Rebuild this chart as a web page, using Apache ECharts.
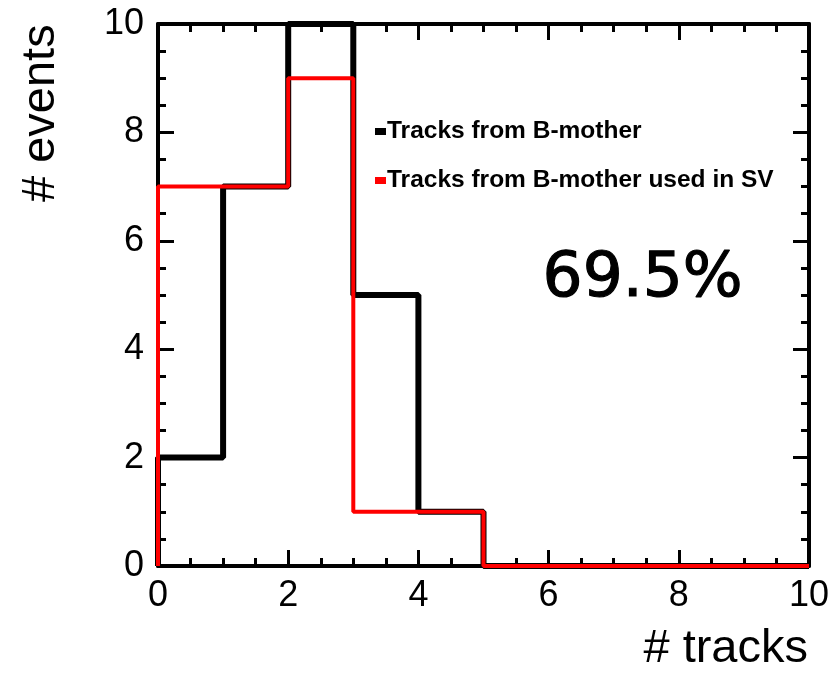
<!DOCTYPE html>
<html><head><meta charset="utf-8">
<script src="https://cdn.jsdelivr.net/npm/echarts@6/dist/echarts.min.js"></script>
<style>html,body{margin:0;padding:0;background:#fff}#c{width:837px;height:674px}</style>
</head><body><div id="c"></div>
<script>
const binEdges = [0, 1, 2, 3, 4, 5, 6, 7, 8, 9, 10];
const allTracks = [2, 7, 10, 5, 1, 0, 0, 0, 0, 0];
const usedInSV = [7, 7, 9, 1, 1, 0, 0, 0, 0, 0];
const seriesNames = ['Tracks from B-mother', 'Tracks from B-mother used in SV'];
const xTicks = [0, 2, 4, 6, 8, 10];
const yTicks = [0, 2, 4, 6, 8, 10];
const efficiencyLabel = '69.5%';

function stepPoints(vals) {
  const pts = [[binEdges[0], 0]];
  vals.forEach((v, i) => { pts.push([binEdges[i], v]); pts.push([binEdges[i + 1], v]); });
  pts.push([binEdges[binEdges.length - 1], 0]);
  return pts;
}

const axisCommon = {
  type: 'value', min: 0, max: 10, interval: 2,
  axisLine: { show: true, onZero: false, lineStyle: { color: '#000', width: 4 } },
  axisTick: { show: true, inside: true, length: 16, lineStyle: { color: '#000', width: 3 } },
  minorTick: { show: true, splitNumber: 4, length: 8, lineStyle: { color: '#000', width: 3 } },
  splitLine: { show: false }
};
const labelStyle = { fontFamily: 'Liberation Sans, Arial', fontSize: 36, color: '#000' };

const chart = echarts.init(document.getElementById('c'), null, { renderer: 'canvas' });
chart.setOption({
  animation: false,
  backgroundColor: '#fff',
  grid: { left: 158, top: 24, right: 28, bottom: 108, containLabel: false },
  xAxis: [
    Object.assign({}, axisCommon, { position: 'bottom', axisLabel: Object.assign({ margin: 12, formatter: v => xTicks.includes(v) ? String(v) : '' }, labelStyle) }),
    Object.assign({}, axisCommon, { position: 'top', axisLabel: { show: false } })
  ],
  yAxis: [
    Object.assign({}, axisCommon, { position: 'left', axisLabel: Object.assign({ margin: 14, formatter: v => yTicks.includes(v) ? String(v) : '' }, labelStyle) }),
    Object.assign({}, axisCommon, { position: 'right', axisLabel: { show: false } })
  ],
  legend: {
    orient: 'vertical', left: 370, top: 114, itemGap: 24,
    itemWidth: 11, itemHeight: 7, icon: 'rect',
    textStyle: { fontFamily: 'Liberation Sans, Arial', fontWeight: 'bold', fontSize: 24.5, color: '#000', padding: [0, 0, 0, -4] },
    data: [
      { name: seriesNames[0], itemStyle: { color: '#000' } },
      { name: seriesNames[1], itemStyle: { color: '#ff0000' } }
    ]
  },
  graphic: [
    { type: 'text', right: 29, top: 626, style: { text: '# tracks', fontFamily: 'Liberation Sans, Arial', fontSize: 47, fill: '#000' } },
    { type: 'text', x: 65, y: 202, rotation: Math.PI / 2, style: { text: '# events', fontFamily: 'Liberation Sans, Arial', fontSize: 47, fill: '#000', align: 'left', verticalAlign: 'bottom' } },
    { type: 'text', left: 542, top: 248, style: { text: efficiencyLabel, fontFamily: 'DejaVu Sans', fontWeight: 'normal', fontSize: 63, fill: '#000', stroke: '#000', lineWidth: 1.2 } }
  ],
  series: [
    { name: seriesNames[0], type: 'line', data: stepPoints(allTracks), symbol: 'none', lineStyle: { color: '#000', width: 6 }, itemStyle: { color: '#000' }, z: 2 },
    { name: seriesNames[1], type: 'line', data: stepPoints(usedInSV), symbol: 'none', lineStyle: { color: '#ff0000', width: 4 }, itemStyle: { color: '#ff0000' }, z: 3 }
  ]
});
</script></body></html>
